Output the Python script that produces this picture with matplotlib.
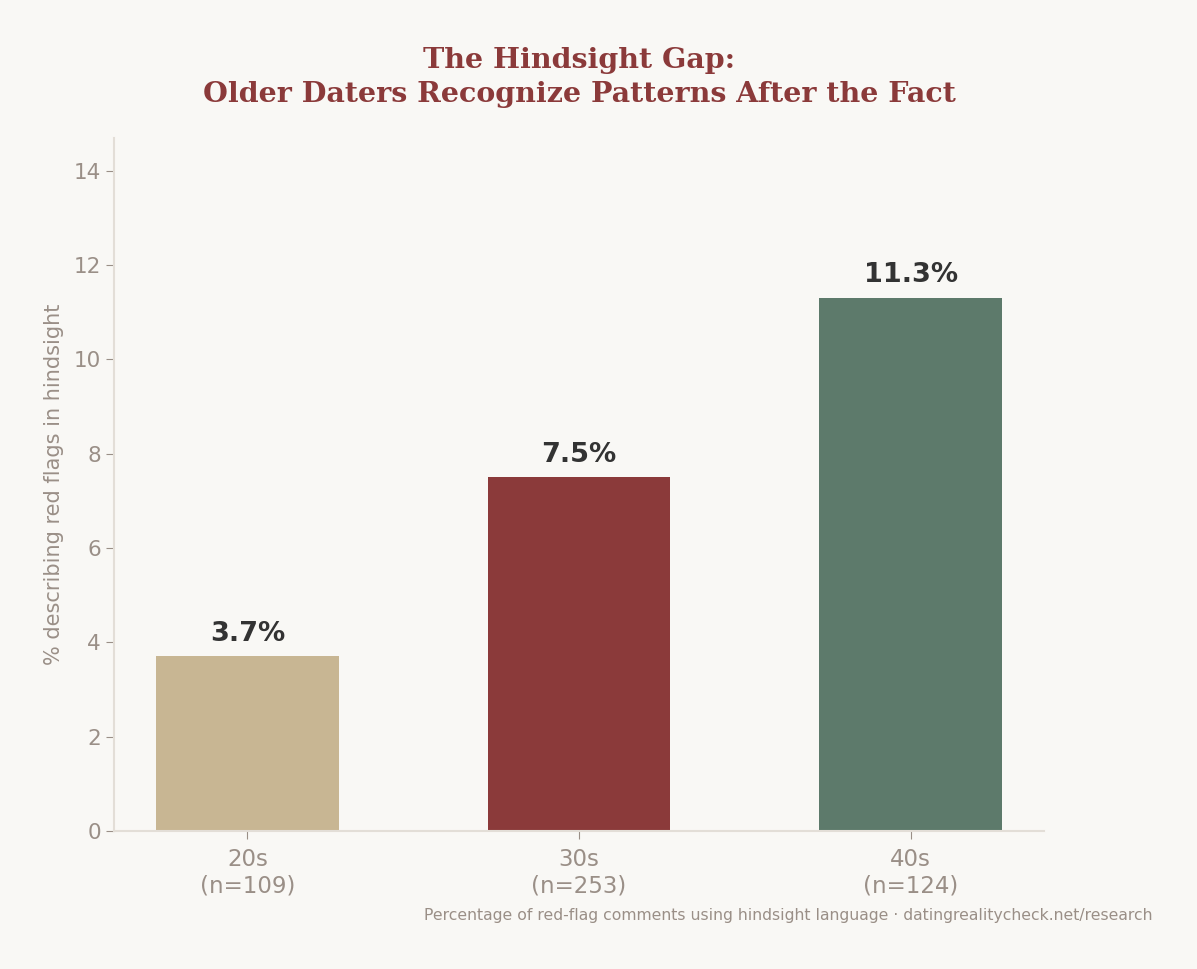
import numpy as np
import matplotlib.pyplot as plt

# data
groups = ['20s\n(n=109)', '30s\n(n=253)', '40s\n(n=124)']
pcts = [3.7, 7.5, 11.3]
colors = ['#c8b693', '#8b3a3a', '#5d7a6b']

bg = '#f9f8f5'
grey = '#9a8f87'

fig = plt.figure(figsize=(11.97, 9.69), dpi=100, facecolor=bg)
ax = fig.add_axes([0.0952, 0.1424, 0.777, 0.7152], facecolor=bg)

x = np.arange(len(groups))
bars = ax.bar(x, pcts, width=0.55, color=colors)
for b, v in zip(bars, pcts):
    ax.text(b.get_x() + b.get_width() / 2, v + 0.2, '%.1f%%' % v,
            ha='center', va='bottom', fontsize=19.5, fontweight='bold', color='#333333')

ax.set_ylim(0, max(pcts) * 1.3)
ax.set_xticks(x)
ax.set_xticklabels(groups, linespacing=1.2)
ax.tick_params(axis='x', labelsize=16.5, colors=grey, length=6, pad=6)
ax.tick_params(axis='y', labelsize=15.5, colors=grey, length=6, pad=3.5)
ax.set_ylabel('% describing red flags in hindsight', fontsize=15, color=grey, labelpad=7)
for s in ['top', 'right']:
    ax.spines[s].set_visible(False)
for s in ['left', 'bottom']:
    ax.spines[s].set_color('#e3ded7')
    ax.spines[s].set_linewidth(1.5)

fig.text(0.4837, 0.952, 'The Hindsight Gap:\nOlder Daters Recognize Patterns After the Fact',
         ha='center', va='top', fontsize=20.5, fontweight='bold', color='#8b3a3a',
         family='DejaVu Serif', linespacing=1.35)
fig.text(0.963, 0.055, 'Percentage of red-flag comments using hindsight language · datingrealitycheck.net/research',
         ha='right', va='center', fontsize=11.25, color=grey)

fig.savefig('out.png', dpi=100, facecolor=bg)
